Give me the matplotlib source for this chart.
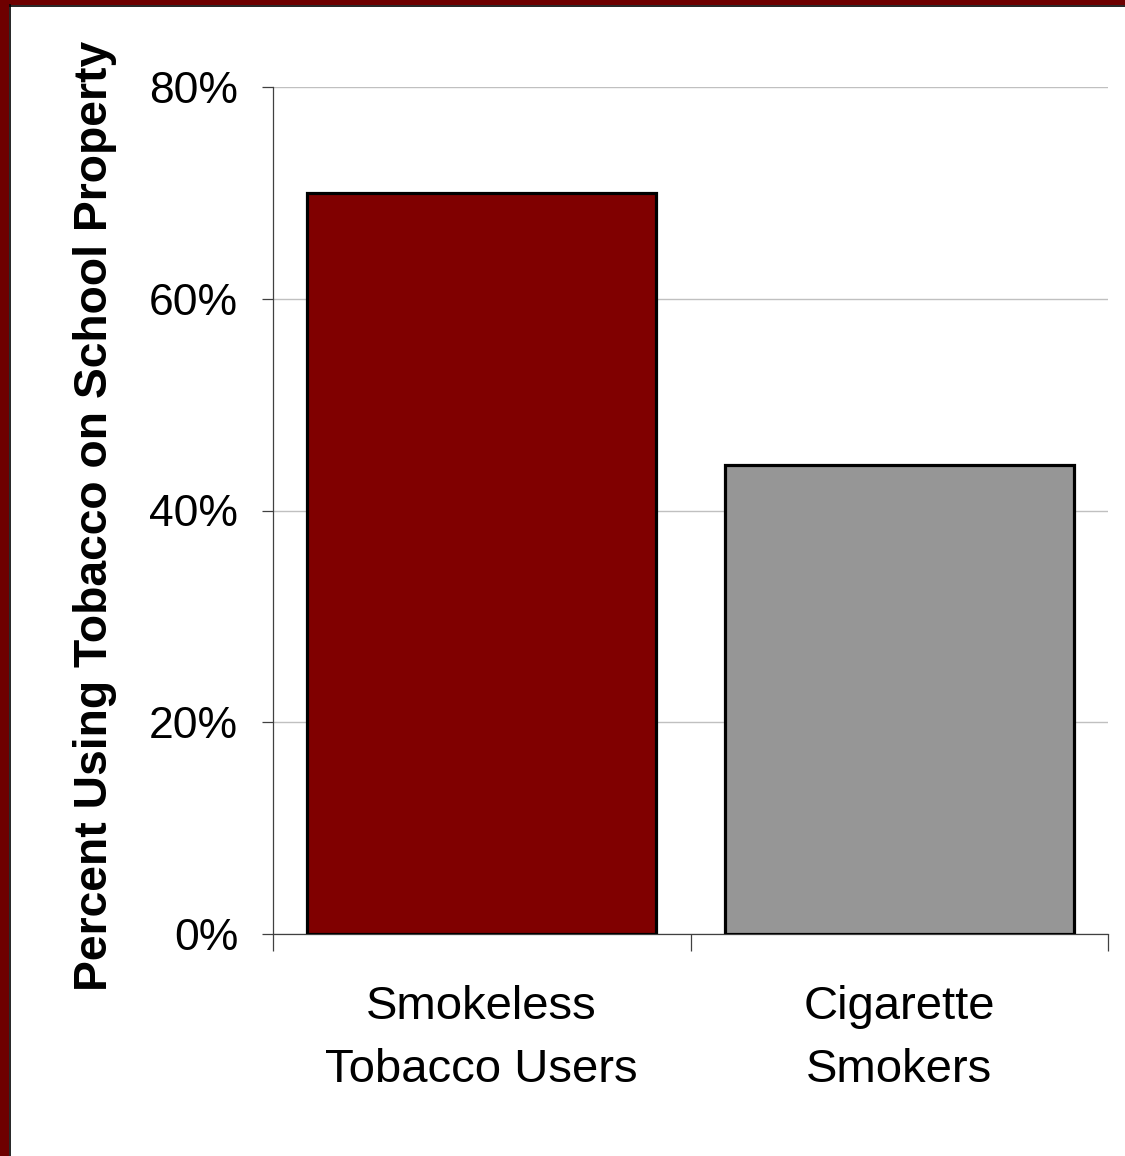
import matplotlib
matplotlib.use('Agg')
import matplotlib.pyplot as plt
import matplotlib.patches as mpatches

plt.rcParams['font.family'] = ['Liberation Sans', 'DejaVu Sans']

# data
categories = ['Smokeless\nTobacco Users', 'Cigarette\nSmokers']
percents = [70.0, 44.3]
bar_colors = ['#800000', '#969696']
y_ticks = [0, 20, 40, 60, 80]
y_ticklabels = ['0%', '20%', '40%', '60%', '80%']

fig = plt.figure(figsize=(11.25, 11.56), dpi=100)
fig.patch.set_facecolor('white')

# dark red frame on the left and top
fig.add_artist(mpatches.Rectangle((0, 0), 9 / 1125, 1, transform=fig.transFigure,
                                  facecolor='#6e0000', edgecolor='none'))
fig.add_artist(mpatches.Rectangle((0, 1 - 5 / 1156), 1, 5 / 1156, transform=fig.transFigure,
                                  facecolor='#6e0000', edgecolor='none'))
fig.add_artist(plt.Line2D([9.5 / 1125, 9.5 / 1125], [0, 1 - 5 / 1156], transform=fig.transFigure,
                          color='black', linewidth=1.2))
fig.add_artist(plt.Line2D([9.5 / 1125, 1], [1 - 5.5 / 1156, 1 - 5.5 / 1156], transform=fig.transFigure,
                          color='black', linewidth=1.2))

ax = fig.add_axes([273 / 1125, 1 - 934 / 1156, 835 / 1125, 847 / 1156])

x = range(len(categories))
ax.bar(x, percents, width=0.835, color=bar_colors, edgecolor='black', linewidth=2.3, zorder=3)

ax.set_xlim(-0.5, len(categories) - 0.5)
ax.set_ylim(0, 80)

ax.set_yticks(y_ticks)
ax.set_yticklabels(y_ticklabels, fontsize=32)
ax.tick_params(axis='y', length=8, width=0.9, color='#404040', pad=17)

# category labels centred, ticks between categories
ax.set_xticks([-0.5, 0.5, 1.5])
ax.set_xticklabels([])
ax.set_xticks(list(x), minor=True)
ax.set_xticklabels(categories, minor=True, fontsize=34, linespacing=1.55)
ax.tick_params(axis='x', which='major', length=12, width=0.9, color='#404040', direction='out')
ax.tick_params(axis='x', which='minor', length=0, pad=37)

ax.grid(True, axis='y', color='#c0c0c0', linewidth=1.0, zorder=0)
ax.set_axisbelow(True)

for side in ['top', 'right']:
    ax.spines[side].set_visible(False)
for side in ['left', 'bottom']:
    ax.spines[side].set_color('#404040')
    ax.spines[side].set_linewidth(0.9)

fig.text(95 / 1125, 1 - 516 / 1156, 'Percent Using Tobacco on School Property',
         rotation=90, ha='center', va='center', fontsize=33.3, fontweight='bold')

fig.savefig('out.png', dpi=100)
